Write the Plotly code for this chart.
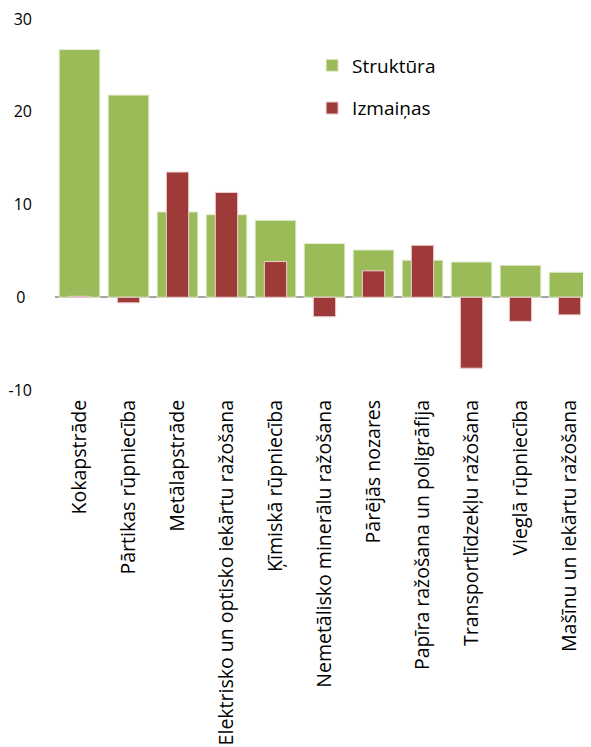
import plotly.graph_objects as go

categories = [
    "Kokapstrāde", "Pārtikas rūpniecība", "Metālapstrāde",
    "Elektrisko un optisko iekārtu ražošana", "Ķīmiskā rūpniecība",
    "Nemetālisko minerālu ražošana", "Pārējās nozares",
    "Papīra ražošana un poligrāfija", "Transportlīdzekļu ražošana",
    "Vieglā rūpniecība", "Mašīnu un iekārtu ražošana",
]
struktura = [26.7, 21.8, 9.2, 8.9, 8.3, 5.8, 5.1, 4.0, 3.8, 3.45, 2.7]
izmainas = [0.1, -0.6, 13.5, 11.3, 3.85, -2.1, 2.85, 5.6, -7.65, -2.6, -1.9]
y_ticks = [-10, 0, 10, 20, 30]
y_ticktext = ["-10", "0\u2005\u2006", "10", "20", "30"]

fig = go.Figure()
fig.add_trace(go.Bar(
    x=categories, y=struktura, name="Struktūra", width=0.83,
    marker=dict(color="#9BBB59", line=dict(color="#E4EDD3", width=1)),
    legendgroup="a",
))
fig.add_trace(go.Bar(
    x=categories, y=izmainas, name="Izmaiņas", width=0.455,
    marker=dict(color="#9E3B39", line=dict(color="#EBD0D0", width=1)),
    legendgroup="b",
))

fig.update_layout(
    width=591, height=747,
    barmode="overlay",
    paper_bgcolor="white", plot_bgcolor="white",
    font=dict(family="Open Sans", color="black"),
    margin=dict(l=47, r=5, t=11, b=365),
    legend=dict(x=0.477, y=0.926, xanchor="left", yanchor="top",
                font=dict(size=19), tracegroupgap=15,
                traceorder="grouped", bgcolor="rgba(0,0,0,0)"),
    xaxis=dict(range=[-0.5, 10.5], tickangle=-90, showgrid=False,
               showline=False, ticks="", tickfont=dict(size=19.5),
               ticklabelstandoff=5, automargin=False),
    yaxis=dict(range=[-10, 30], tickvals=y_ticks, ticktext=y_ticktext,
               showgrid=False, zeroline=True,
               zerolinecolor="#A6A6A6", zerolinewidth=1.5, showline=False,
               ticks="", ticklabelstandoff=22, tickfont=dict(size=16),
               ticklabeloverflow="allow", automargin=False),
)

fig.write_html("out.html")
